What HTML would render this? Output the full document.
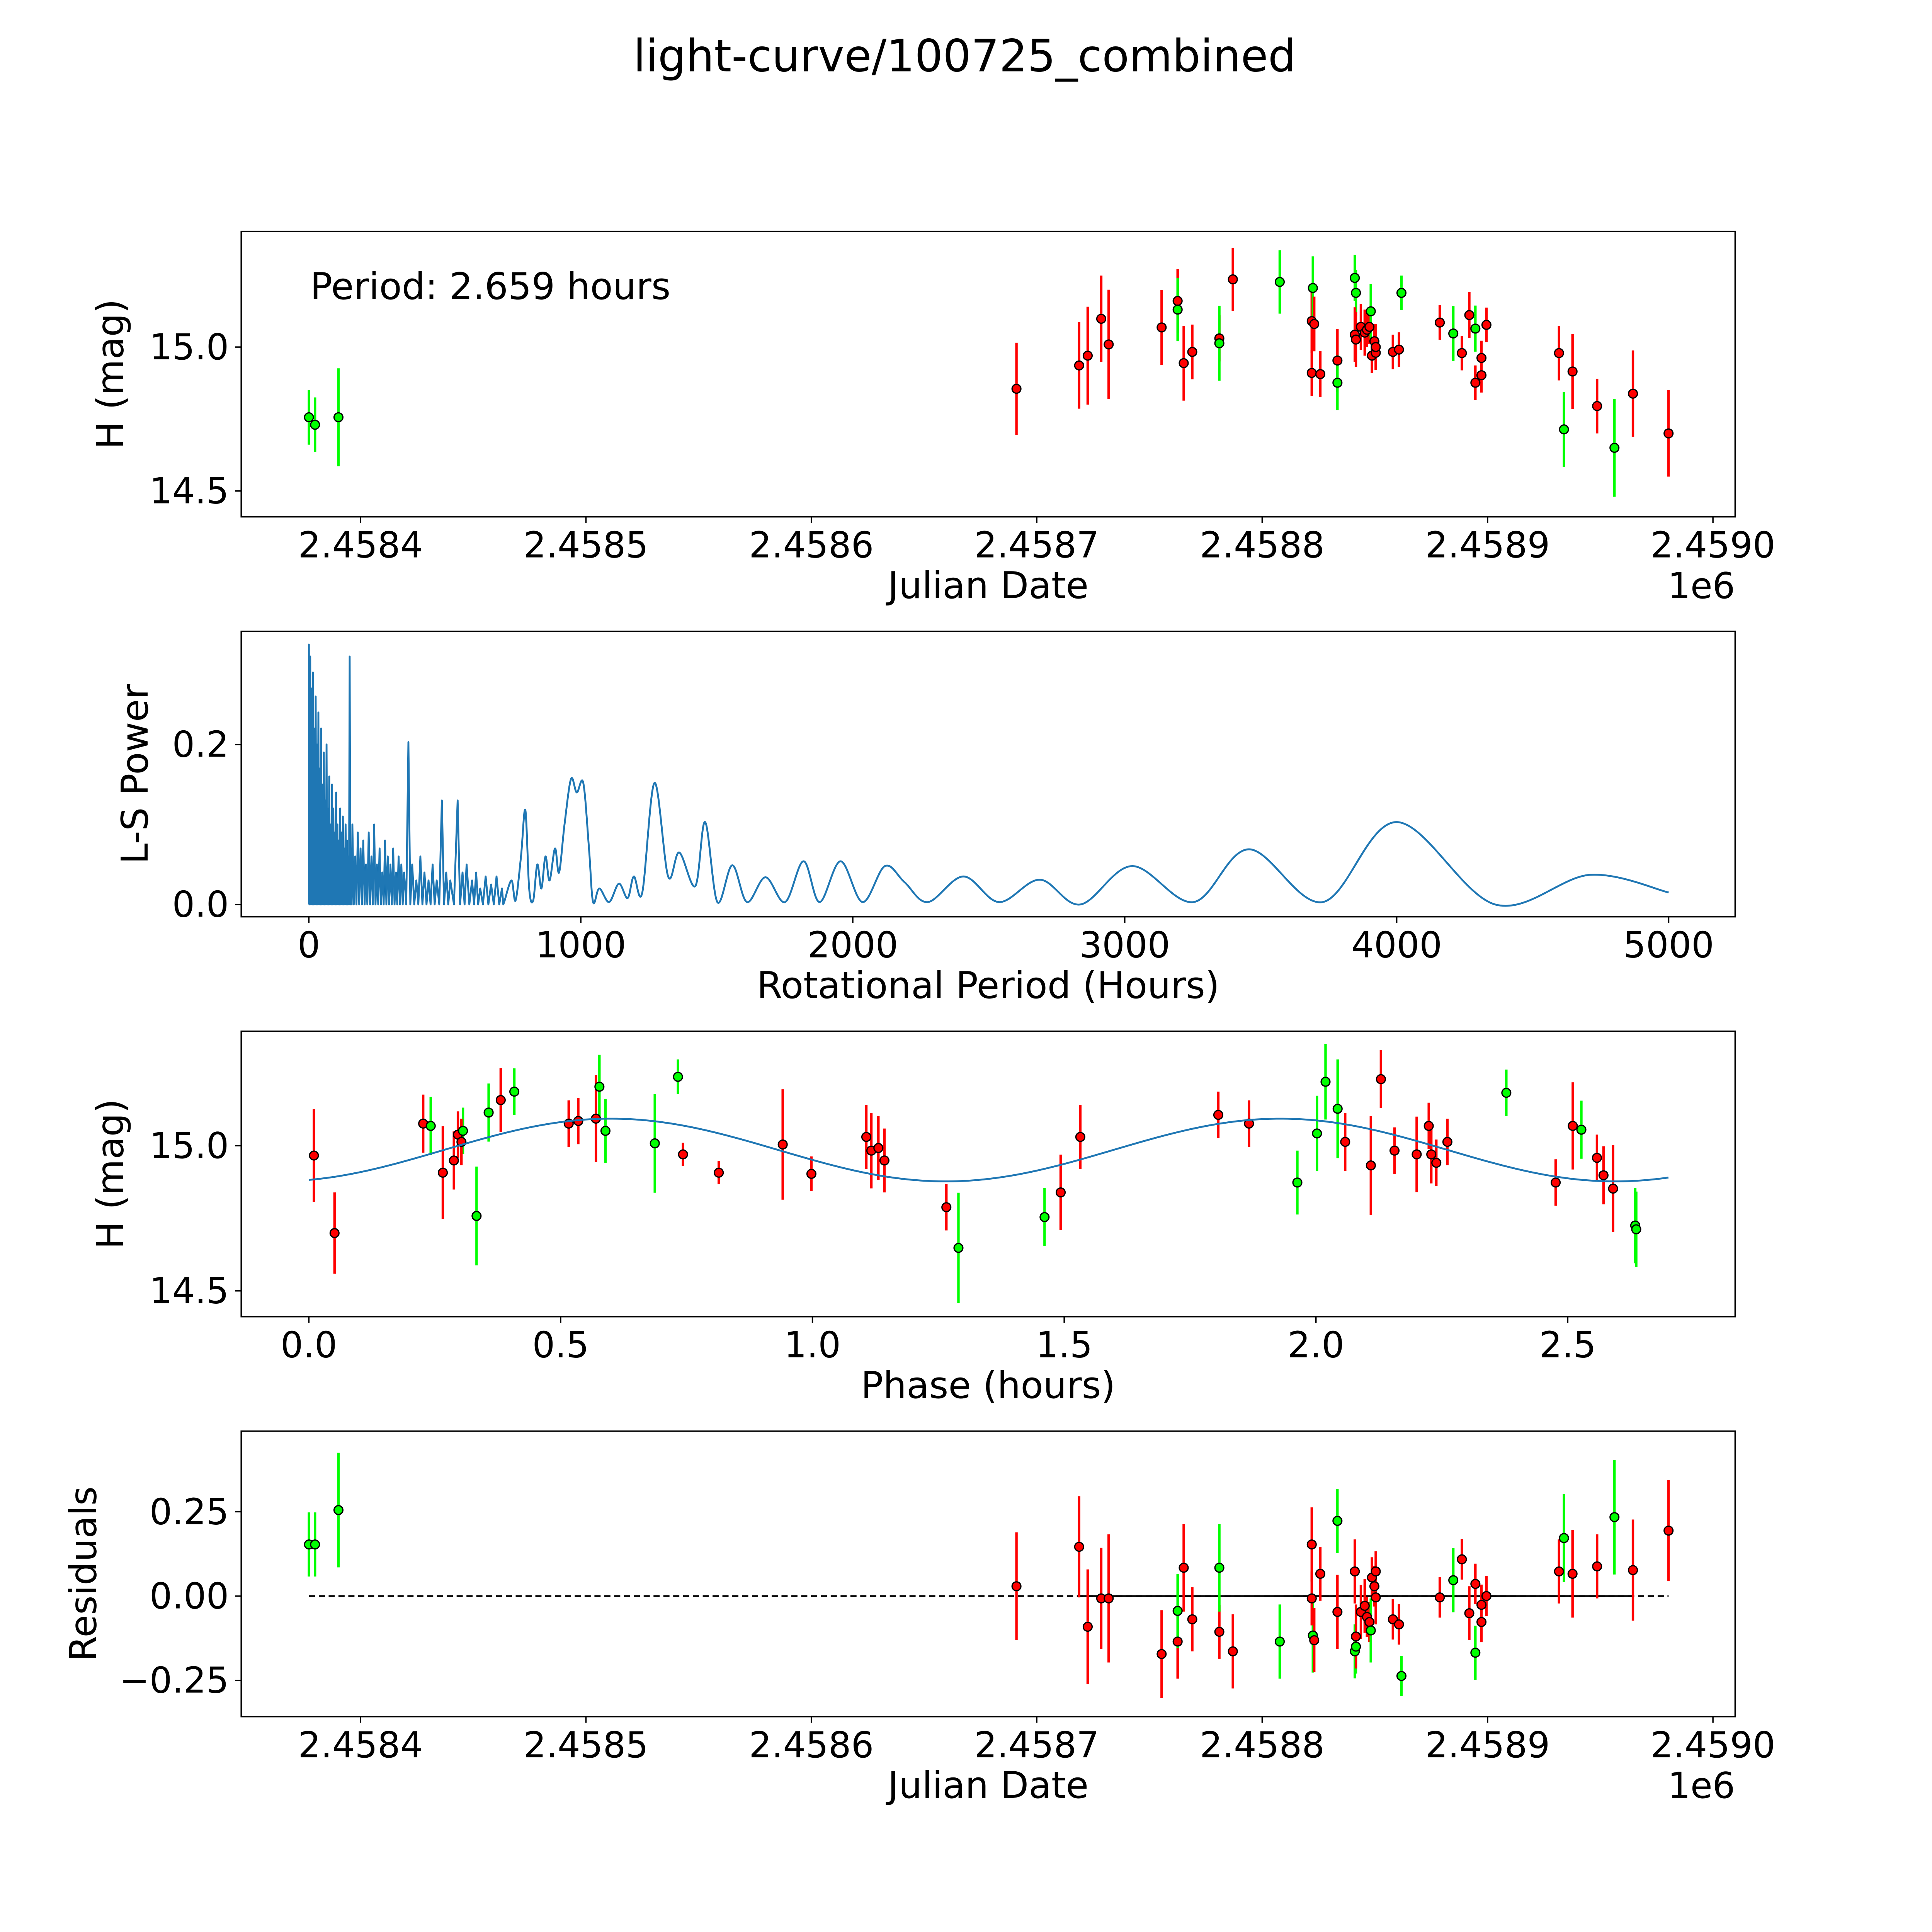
<!DOCTYPE html>
<html><head><meta charset="utf-8"><style>
html,body{margin:0;padding:0;background:#fff;overflow:hidden;width:100vw;height:100vh;}
svg{display:block;font-family:"DejaVu Sans","Liberation Sans",sans-serif;width:100vw;height:100vh;}
</style></head><body>
<svg id="chart" viewBox="0 0 1570 1570" preserveAspectRatio="none" xmlns="http://www.w3.org/2000/svg">
<rect width="1570" height="1570" fill="#fff"/>
<text x="784" y="58" font-size="36" text-anchor="middle">light-curve/100725_combined</text>
</svg>
<script>
// ---- Light curve data ----
const jd = [2458377.1,2458379.8,2458390.2,2458691.0,2458718.8,2458722.6,2458728.6,2458731.9,2458755.4,2458762.5,2458762.5,2458765.2,2458769.0,2458781.0,2458781.0,2458787.0,2458807.8,2458822.0,2458822.5,2458823.1,2458822.0,2458825.8,2458833.4,2458833.4,2458841.1,2458841.6,2458841.1,2458841.6,2458843.8,2458845.5,2458846.5,2458847.6,2458848.2,2458848.7,2458849.8,2458850.4,2458850.4,2458858.0,2458860.7,2458861.8,2458878.8,2458884.8,2458888.6,2458891.9,2458894.6,2458894.6,2458897.3,2458897.3,2458899.5,2458931.7,2458933.9,2458937.7,2458948.6,2458956.3,2458964.5,2458980.3];
const mag = [14.756,14.73,14.756,14.855,14.936,14.97,15.098,15.009,15.068,15.16,15.13,14.944,14.983,15.03,15.013,15.235,15.226,15.09,15.205,15.08,14.91,14.906,14.953,14.876,15.24,15.188,15.043,15.026,15.07,15.05,15.06,15.07,15.124,14.97,15.02,14.98,15.0,14.983,14.991,15.188,15.085,15.047,14.979,15.111,15.064,14.876,14.902,14.962,15.077,14.979,14.714,14.915,14.795,14.65,14.838,14.7];
const magErr = [.095,.095,.17,.16,.15,.17,.15,.19,.13,.11,.11,.13,.095,.08,.13,.11,.11,.11,.11,.095,.08,.08,.11,.095,.08,.08,.095,.095,.08,.08,.06,.06,.095,.06,.06,.06,.08,.06,.06,.06,.06,.095,.06,.08,.08,.06,.06,.06,.06,.095,.13,.13,.095,.17,.15,.15];
const filt = ['g','g','g','r','r','r','r','r','r','r','g','r','r','r','g','r','g','r','g','r','r','r','r','g','g','g','r','r','r','r','r','r','g','r','r','r','r','r','r','g','r','g','r','r','g','r','r','r','r','r','g','r','r','g','r','r'];
const resid = [.153,.153,.255,.029,.146,-.091,-.007,-.007,-.172,-.135,-.044,.084,-.069,-.106,.084,-.164,-.135,.153,-.117,-.131,-.007,.066,-.047,.223,-.164,-.15,.073,-.12,-.047,-.029,-.062,-.077,-.102,.055,.029,.073,-.004,-.069,-.084,-.237,-.004,.047,.109,-.051,-.168,.036,-.077,-.026,0,.073,.172,.066,.088,.234,.077,.194];
// ---- Phase-folded data ----
const phase = [0.010,0.051,0.227,0.242,0.266,0.288,0.296,0.306,0.303,0.333,0.357,0.381,0.408,0.516,0.535,0.570,0.577,0.589,0.687,0.733,0.743,0.814,0.941,0.998,1.107,1.117,1.131,1.143,1.266,1.290,1.461,1.493,1.532,1.806,1.867,1.963,2.002,2.019,2.043,2.058,2.109,2.129,2.156,2.200,2.224,2.229,2.239,2.261,2.378,2.476,2.510,2.527,2.558,2.571,2.590,2.634,2.636];
const phaseMag = [14.966,14.699,15.076,15.068,14.907,14.949,15.038,15.051,15.013,14.758,15.114,15.157,15.186,15.076,15.085,15.093,15.203,15.051,15.008,15.237,14.970,14.907,15.004,14.903,15.030,14.983,14.992,14.949,14.788,14.648,14.754,14.839,15.030,15.106,15.076,14.873,15.042,15.220,15.127,15.013,14.932,15.229,14.983,14.970,15.068,14.970,14.941,15.013,15.182,14.873,15.068,15.055,14.958,14.898,14.852,14.725,14.712];
const phaseErr = [.16,.14,.1,.1,.16,.1,.08,.08,.08,.17,.1,.11,.08,.08,.08,.15,.11,.11,.17,.06,.04,.04,.19,.06,.11,.13,.11,.11,.08,.19,.1,.13,.11,.08,.08,.11,.13,.13,.17,.1,.17,.1,.08,.13,.08,.1,.08,.08,.08,.08,.15,.1,.08,.1,.15,.13,.13];
const phaseFilt = ['r','r','r','g','r','r','r','g','r','g','g','r','g','r','r','r','g','g','g','g','r','r','r','r','r','r','r','r','r','g','g','r','r','r','r','g','g','g','g','r','r','r','r','r','r','r','r','r','g','r','r','g','r','r','r','g','g'];
// fit model parameters
const fitMean = [14.985];
const fitAmp = [0.108];
const fitPeakPhase = [0.6];
const fitPeriod = [2.659];
const fitEnd = [2.70];
// ---- Periodogram ----
const spikePeriod = [0,5,10,15,20,25,30,35,40,45,50,55,60,65,70,75,80,85,90,95,100,105,110,115,120,125,130,135,140,145,150,155,160,170,180,190,200,210,220,230,240,250,260,270,280,290,300,310,320,330,340,350,366,380,395,410,425,440,455,470,489,505,520,547,565,580,600,615,630,650,670,690,710];
const spikePower = [0.325,0.31,0.27,0.29,0.22,0.26,0.2,0.24,0.17,0.22,0.15,0.19,0.13,0.2,0.12,0.16,0.1,0.15,0.12,0.09,0.14,0.1,0.08,0.12,0.09,0.11,0.07,0.1,0.08,0.06,0.31,0.07,0.1,0.06,0.09,0.07,0.08,0.05,0.09,0.06,0.1,0.05,0.07,0.04,0.08,0.06,0.05,0.07,0.04,0.06,0.05,0.04,0.203,0.05,0.03,0.06,0.04,0.03,0.05,0.03,0.13,0.04,0.03,0.13,0.04,0.05,0.03,0.04,0.02,0.035,0.025,0.035,0.02];
const smoothPeriod = [720,745,760,780,796,810,825,840,855,870,885,905,920,940,964,985,1009,1030,1045,1068,1104,1140,1172,1195,1226,1271,1321,1362,1421,1457,1502,1557,1611,1679,1751,1819,1878,1955,2036,2118,2190,2276,2407,2538,2688,2837,3027,3253,3457,3728,4000,4362,4710,5000];
const smoothPower = [0.005,0.03,0.005,0.06,0.118,0.02,0.005,0.05,0.02,0.06,0.03,0.07,0.04,0.1,0.157,0.14,0.152,0.07,0.003,0.02,0.003,0.026,0.008,0.035,0.015,0.152,0.035,0.065,0.023,0.103,0.003,0.049,0.003,0.034,0.003,0.054,0.003,0.054,0.003,0.048,0.028,0.003,0.035,0.003,0.031,0.0,0.048,0.003,0.069,0.003,0.103,0.0,0.037,0.015];
// ---- Axis ticks ----
const jdTicks = [2458400,2458500,2458600,2458700,2458800,2458900,2459000];
const jdTickLabels = ['2.4584','2.4585','2.4586','2.4587','2.4588','2.4589','2.4590'];
const magTicks = [14.5,15.0];
const magTickLabels = ['14.5','15.0'];
const perTicks = [0,1000,2000,3000,4000,5000];
const powTicks = [0.0,0.2];
const powTickLabels = ['0.0','0.2'];
const phaseTicks = [0,0.5,1.0,1.5,2.0,2.5];
const phaseTickLabels = ['0.0','0.5','1.0','1.5','2.0','2.5'];
const resTicks = [-0.25,0,0.25];
const resTickLabels = ['\u22120.25','0.00','0.25'];

const NS='http://www.w3.org/2000/svg';
const svg=document.getElementById('chart');
function mk(tag,attrs,parent){const e=document.createElementNS(NS,tag);for(const k in attrs)e.setAttribute(k,attrs[k]);(parent||svg).appendChild(e);return e;}
function lin(d0,d1,r0,r1){return v=>r0+(v-d0)/(d1-d0)*(r1-r0);}
const L=196,R=1410;
function panel(name,top,bot,x,y,xt,xtl,yt,ytl,xlabel,ylabel,ylx,extra){
  const g=mk('g',{});
  
  
  const fr=mk('rect',{x:L,y:top,width:R-L,height:bot-top,fill:'none',stroke:'#000','stroke-width':1.1},g);
  
  
  xt.forEach((v,i)=>{const px=x(v);
    mk('line',{x1:px,x2:px,y1:bot,y2:bot+5,stroke:'#000','stroke-width':1.1},g);
    const t=mk('text',{x:px,y:bot+33,'font-size':29,'text-anchor':'middle'},g);t.textContent=xtl[i];
    
    });
  yt.forEach((v,i)=>{const py=y(v);if(py<top-1||py>bot+1)return;
    mk('line',{x1:L-5,x2:L,y1:py,y2:py,stroke:'#000','stroke-width':1.1},g);
    if(ytl[i]){const t=mk('text',{x:L-10,y:py+10,'font-size':29,'text-anchor':'end'},g);t.textContent=ytl[i];
    
    }});
  const xl=mk('text',{x:803,y:bot+66,'font-size':30,'text-anchor':'middle'},g);xl.textContent=xlabel;
  
  
  const cy=(top+bot)/2;
  const yl=mk('text',{x:ylx,y:cy,'font-size':30,'text-anchor':'middle',transform:`rotate(-90 ${ylx} ${cy})`},g);yl.textContent=ylabel;
  
  
  if(extra){const e=mk('text',{x:1410,y:bot+66,'font-size':29,'text-anchor':'end'},g);e.textContent=extra;
    
    }
  return g;
}
function clip(id,top,bot){const c=mk('clipPath',{id:id});mk('rect',{x:L,y:top,width:R-L,height:bot-top},c);}
function points(g,xs,ys,es,fs,x,y,name){
  xs.forEach((v,i)=>{const col=fs[i]==='g'?'#00ff00':'#ff0000';const px=x(v);
    const eb=mk('line',{x1:px,x2:px,y1:y(ys[i]-es[i]),y2:y(ys[i]+es[i]),stroke:col,'stroke-width':2},g);
    
    });
  xs.forEach((v,i)=>{const col=fs[i]==='g'?'#00ff00':'#ff0000';
    const c=mk('circle',{cx:x(v),cy:y(ys[i]),r:3.6,fill:col,stroke:'#000','stroke-width':1},g);
    
    });
}
// Panel 1
const x1=lin(2458400,2459000,293,1392), y1=lin(14.5,15.0,399,282);
const p1=panel('light-curve-panel',188,420,x1,y1,jdTicks,jdTickLabels,magTicks,magTickLabels,'Julian Date','H (mag)',100,'1e6');
clip('c1',188,420);
const g1=mk('g',{'clip-path':'url(#c1)'},p1);
points(g1,jd,mag,magErr,filt,x1,y1,'magnitude');
const pt=mk('text',{x:252,y:243,'font-size':30},p1);pt.textContent='Period: 2.659 hours';


// Panel 2
const x2=lin(0,5000,251,1356), y2=lin(0,0.2,735,605);
const p2=panel('periodogram-panel',513,745,x2,y2,perTicks,perTicks.map(String),powTicks,powTickLabels,'Rotational Period (Hours)','L-S Power',120);
let d='M'+x2(0)+','+y2(0);
spikePeriod.forEach((p,i)=>{const nx=i+1<spikePeriod.length?spikePeriod[i+1]:smoothPeriod[0];
  d+=' L'+x2(p)+','+y2(spikePower[i])+' L'+x2((p+nx)/2)+','+y2(0);});
const sp=smoothPeriod.map((p,i)=>[x2(p),y2(smoothPower[i])]);
d+=' L'+sp[0][0]+','+sp[0][1];
for(let i=0;i<sp.length-1;i++){const p0=sp[Math.max(i-1,0)],p1_=sp[i],p2_=sp[i+1],p3=sp[Math.min(i+2,sp.length-1)];
  const c1=[p1_[0]+(p2_[0]-p0[0])/6,p1_[1]+(p2_[1]-p0[1])/6],c2=[p2_[0]-(p3[0]-p1_[0])/6,p2_[1]-(p3[1]-p1_[1])/6];
  d+=` C${c1[0]},${c1[1]} ${c2[0]},${c2[1]} ${p2_[0]},${p2_[1]}`;}
const pg=mk('path',{d:d,fill:'none',stroke:'#1f77b4','stroke-width':1.5,'stroke-linejoin':'round'},p2);


// Panel 3
const x3=lin(0,2.5,251,1274), y3=lin(14.5,15.0,1049,931);
const p3=panel('phase-panel',838,1070,x3,y3,phaseTicks,phaseTickLabels,magTicks,magTickLabels,'Phase (hours)','H (mag)',100);
points(p3,phase,phaseMag,phaseErr,phaseFilt,x3,y3,'phase');
let fd='';
for(let k=0;k<=300;k++){const ph=fitEnd[0]*k/300;
  const m=fitMean[0]+fitAmp[0]*Math.cos(2*Math.PI*(ph-fitPeakPhase[0])/(fitPeriod[0]/2));
  fd+=(k?' L':'M')+x3(ph)+','+y3(m);}
const fl=mk('path',{d:fd,fill:'none',stroke:'#1f77b4','stroke-width':1.5},p3);


// Panel 4
const y4=lin(0,0.25,1297,1228.5);
const p4=panel('residuals-panel',1163,1395,x1,y4,jdTicks,jdTickLabels,resTicks,resTickLabels,'Julian Date','Residuals',78,'1e6');
const zl=mk('line',{x1:x1(jd[0]),x2:x1(jd[jd.length-1]),y1:y4(0),y2:y4(0),stroke:'#000','stroke-width':1.4,'stroke-dasharray':'5,3'},p4);


const zs=mk('line',{x1:x1(jd[4]),x2:x1(jd[54]),y1:y4(0),y2:y4(0),stroke:'#000','stroke-width':1.4},p4);


points(p4,jd,resid,magErr,filt,x1,y4,'residual');
</script>
</body></html>
